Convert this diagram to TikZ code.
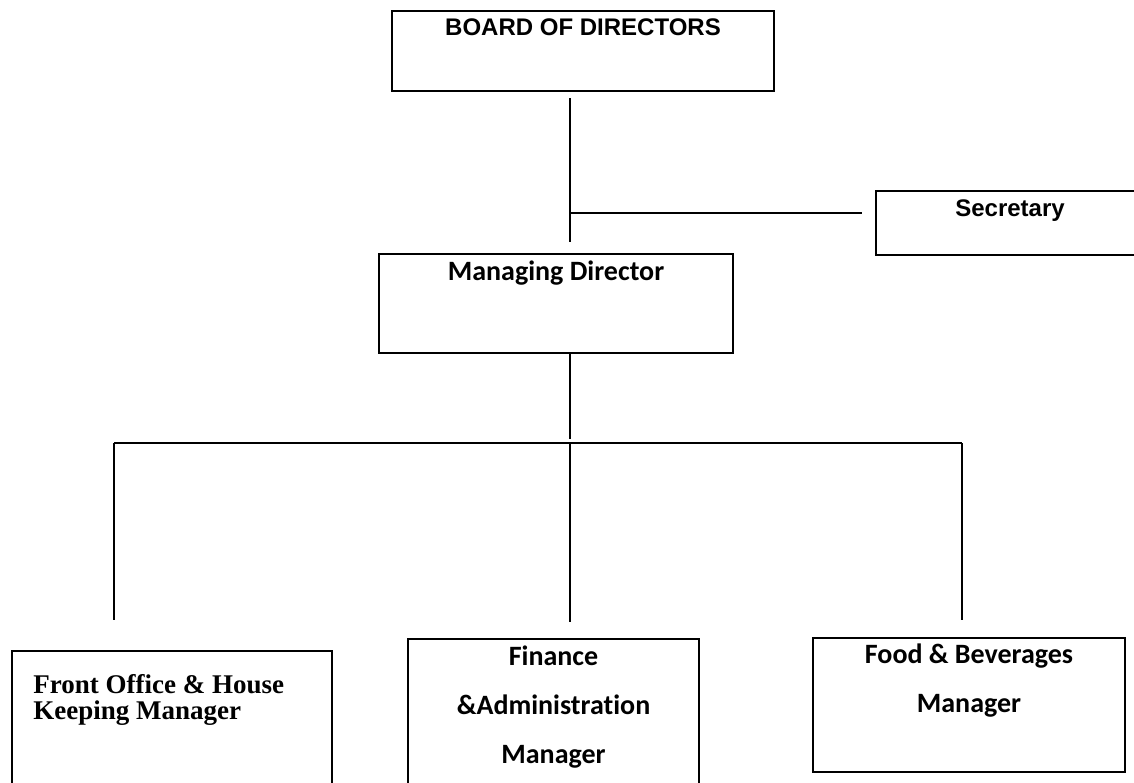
\documentclass[tikz,border=0pt]{standalone}
\usepackage{fontspec}
\usepackage{tikz}
\newfontfamily\arialfont{Liberation Sans}
\newfontfamily\aptosfont{Carlito}[Ligatures={NoCommon}]
\newfontfamily\cambriafont{Liberation Serif}

\tikzset{box/.style={draw,line width=1.2pt,inner sep=0pt}}
\tikzset{link/.style={line width=1.2pt}}
\tikzset{txtA/.style={font=\arialfont\bfseries\fontsize{12}{14}\selectfont,inner sep=0pt,anchor=base}}
\tikzset{txtB/.style={font=\aptosfont\bfseries\fontsize{14}{16}\selectfont,inner sep=0pt,anchor=base}}
\tikzset{txtC/.style={font=\cambriafont\bfseries\fontsize{13.5}{15}\selectfont,inner sep=0pt,anchor=base west}}

\begin{document}
\begin{tikzpicture}[x=0.5pt,y=-0.5pt]
\useasboundingbox (0,0) rectangle (1134,782);
\clip (0,0) rectangle (1134,782);
% boxes
\node[box,minimum width=191pt,minimum height=40pt] (brd) at (583,51) {};
\node[box,minimum width=134pt,minimum height=32pt] (sec) at (1010,223) {};
\node[box,minimum width=177pt,minimum height=49.5pt] (md) at (556,303.5) {};
\node[box,minimum width=160pt,minimum height=74.5pt] (fo) at (172,725.5) {};
\node[box,minimum width=145.5pt,minimum height=80.5pt] (fin) at (553.5,719.5) {};
\node[box,minimum width=156pt,minimum height=67pt] (fb) at (969,705) {};
% texts
\node[txtA] (brdt) at (583,35) {BOARD OF DIRECTORS};
\node[txtA] (sect) at (1010,216) {Secretary};
\node[txtB] (mdt) at (556,280) {Managing Director};
\node[txtC] (fot1) at (33,693) {Front Office \& House};
\node[txtC] (fot2) at (33,719) {Keeping Manager};
\node[txtB] (fint1) at (553.5,665) {Finance};
\node[txtB] (fint2) at (553.5,714) {\&Administration};
\node[txtB] (fint3) at (553.5,763) {Manager};
\node[txtB] (fbt1) at (969,663) {Food \& Beverages};
\node[txtB] (fbt2) at (969,712) {Manager};
% connectors
\coordinate (t1) at (570,98);
\coordinate (t2) at (570,242);
\coordinate (s1) at (570,213);
\coordinate (s2) at (862,213);
\coordinate (m1) at (570,353);
\coordinate (m2) at (570,439);
\coordinate (hl) at (114,443);
\coordinate (hr) at (962,443);
\draw[link] (t1) -- (t2);
\draw[link] (s1) -- (s2);
\draw[link] (m1) -- (m2);
\draw[link] (hl) -- (hr);
\foreach \x/\y in {114/620,570/622,962/620}
\draw[link] (\x,443) -- (\x,\y);
\end{tikzpicture}
\end{document}
